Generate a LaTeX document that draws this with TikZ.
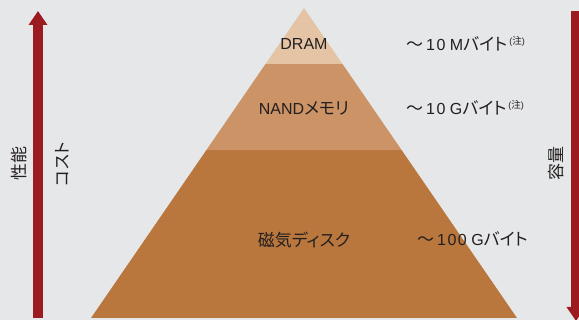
\documentclass[tikz,border=0pt]{standalone}
\usepackage{fontspec}
\setmainfont{Liberation Sans}
\newfontfamily\jp[RawFeature={+palt},Scale=1.06]{Noto Sans CJK JP}
\newfontfamily\jpw[Scale=1.06]{Noto Sans CJK JP}
\usetikzlibrary{arrows.meta,calc}
\definecolor{bg}{HTML}{E6E7E8}
\definecolor{arrowred}{HTML}{9C1B21}
\definecolor{layerA}{HTML}{E5C4A6}
\definecolor{layerB}{HTML}{CC9366}
\definecolor{layerC}{HTML}{B9773E}
\definecolor{ink}{HTML}{231F20}
\tikzset{
  bigarrow/.style={line width=10pt, draw=arrowred, -{Triangle[width=18pt,length=14pt]}},
  lbl/.style={text=ink, inner sep=0pt, font=\fontsize{16}{18}\selectfont}
}
\newcommand{\chu}{\hspace{2pt}\raisebox{6pt}{\fontsize{9}{10}\selectfont(\jp 注\normalfont)}}
\newcommand{\wave}{{\jpw ～}\hspace{3pt}}
\begin{document}
\begin{tikzpicture}[x=1pt,y=-1pt]
\fill[bg] (0,0) rectangle (579,320);
\useasboundingbox (0,0) rectangle (579,320);
% pyramid
\coordinate (apex) at (304,8);
\coordinate (bl) at (91,318);
\coordinate (br) at (517,318);
\coordinate (l1) at ($(apex)!0.1806!(bl)$);
\coordinate (r1) at ($(apex)!0.1806!(br)$);
\coordinate (l2) at ($(apex)!0.4581!(bl)$);
\coordinate (r2) at ($(apex)!0.4581!(br)$);
\fill[layerC] (l2) -- (bl) -- (br) -- (r2) -- cycle;
\fill[layerB] (l1) -- (l2) -- (r2) -- (r1) -- cycle;
\fill[layerA] (apex) -- (l1) -- (r1) -- cycle;
% arrows
\coordinate (la0) at (38,318);
\coordinate (la1) at (38,11);
\coordinate (ra0) at (576,11);
\coordinate (ra1) at (576,321);
\draw[bigarrow] (la0) -- (la1);
\draw[bigarrow] (ra0) -- (ra1);
% labels
\node[lbl] (dram) at (304,44) {DRAM};
\node[lbl] (nand) at (304,108) {NAND{\jp メモリ}};
\node[lbl] (disk) at (304,240) {\jp 磁気ディスク};
\node[lbl,anchor=west] (c1) at (406,44) {\wave1\kern1.5pt0 M{\jp バイト}\chu};
\node[lbl,anchor=west] (c2) at (406,108) {\wave1\kern1.5pt0 G{\jp バイト}\chu};
\node[lbl,anchor=west] (c3) at (417,239) {\wave1\kern1.5pt0\kern1.5pt0 G{\jp バイト}};
\node[lbl,rotate=90] (perf) at (19,164) {\jp 性能};
\node[lbl,rotate=90] (cost) at (62,164) {\jp コスト};
\node[lbl,rotate=90] (cap) at (556,164) {\jp 容量};
\end{tikzpicture}
\end{document}
